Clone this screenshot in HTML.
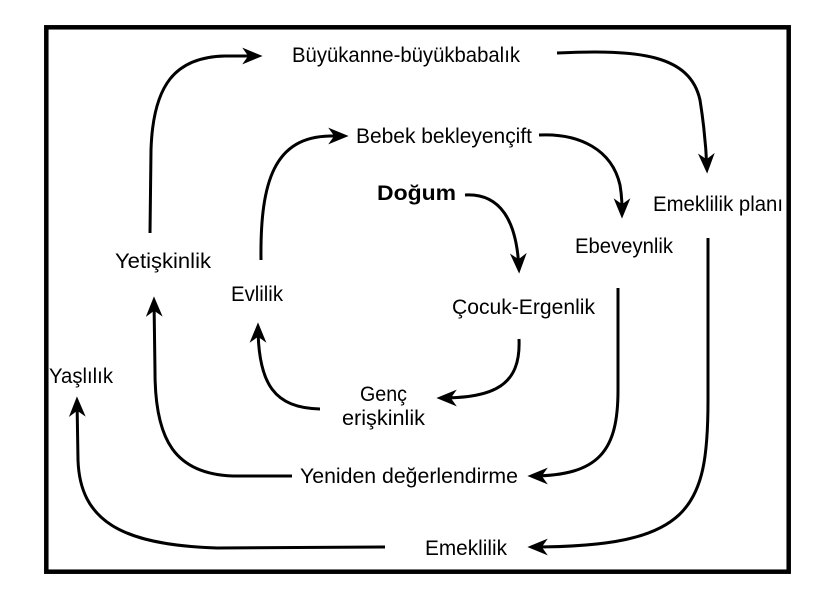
<!DOCTYPE html>
<html>
<head>
<meta charset="utf-8">
<style>
  html, body { margin: 0; padding: 0; background: #fff; }
  svg { display: block; }
  text { font-family: "Liberation Sans", "DejaVu Sans", sans-serif; font-size: 21px; fill: #000; }
</style>
</head>
<body>
<svg width="815" height="592" viewBox="0 0 815 592" xmlns="http://www.w3.org/2000/svg">
  <defs>
    <marker id="ah" markerUnits="userSpaceOnUse" markerWidth="24" markerHeight="20" viewBox="-1 -8 20 16" refX="14" refY="0" orient="auto">
      <path d="M0,-7 L17,0 L0,7 L5,0 Z" fill="#000"/>
    </marker>
  </defs>
  <rect x="0" y="0" width="815" height="592" fill="#fff"/>
  <rect x="46.3" y="27.3" width="742.4" height="544.4" fill="none" stroke="#000" stroke-width="4.5"/>

  <g fill="none" stroke="#000" stroke-width="3" stroke-linecap="butt" marker-end="url(#ah)">
    <!-- Yetişkinlik -> Büyükanne -->
    <path d="M150,233 L151,150 C153,85 175,57 225,56 L259,56"/>
    <!-- Büyükanne -> Emeklilik planı -->
    <path d="M557,53 C640,49 690,55 700,100 C704,125 706,145 707,170"/>
    <!-- Evlilik -> Bebek -->
    <path d="M261,260 C260,180 275,137 330,136 L345,136"/>
    <!-- Bebek -> Ebeveynlik -->
    <path d="M539,135 C580,133 612,150 620,185 C622,197 622,205 622,215"/>
    <!-- Doğum -> Çocuk -->
    <path d="M465,195 C500,193 517,220 519,270"/>
    <!-- Ebeveynlik -> Yeniden -->
    <path d="M618,288 L618,390 C618,450 600,476 531,476"/>
    <!-- Emeklilik planı -> Emeklilik -->
    <path d="M708,238 L708,400 C708,510 690,547 531,547"/>
    <!-- Çocuk -> Genç -->
    <path d="M519,339 C521,385 495,398 440,398"/>
    <!-- Genç -> Evlilik -->
    <path d="M320,409 C275,408 258,385 258,326"/>
    <!-- Yeniden -> Yetişkinlik -->
    <path d="M292,476 L233,476 C175,474 155,440 155,372 L154,300"/>
    <!-- Emeklilik -> Yaşlılık -->
    <path d="M385,547 L217,548 C120,545 80,520 78,460 L77,400"/>
  </g>

  <text x="292" y="62" textLength="228" lengthAdjust="spacingAndGlyphs">Büyükanne-büyükbabalık</text>
  <text x="356" y="143" textLength="176" lengthAdjust="spacingAndGlyphs">Bebek bekleyençift</text>
  <text x="377" y="200" textLength="79" lengthAdjust="spacingAndGlyphs" font-weight="bold">Doğum</text>
  <text x="653" y="211" textLength="130" lengthAdjust="spacingAndGlyphs">Emeklilik planı</text>
  <text x="575" y="253" textLength="98" lengthAdjust="spacingAndGlyphs">Ebeveynlik</text>
  <text x="115" y="268" textLength="96" lengthAdjust="spacingAndGlyphs">Yetişkinlik</text>
  <text x="231" y="301" textLength="52" lengthAdjust="spacingAndGlyphs">Evlilik</text>
  <text x="452" y="314" textLength="143" lengthAdjust="spacingAndGlyphs">Çocuk-Ergenlik</text>
  <text x="49" y="383" textLength="64" lengthAdjust="spacingAndGlyphs">Yaşlılık</text>
  <text x="360" y="401" textLength="47" lengthAdjust="spacingAndGlyphs">Genç</text>
  <text x="342" y="425" textLength="83" lengthAdjust="spacingAndGlyphs">erişkinlik</text>
  <text x="300" y="483" textLength="218" lengthAdjust="spacingAndGlyphs">Yeniden değerlendirme</text>
  <text x="425" y="555" textLength="82" lengthAdjust="spacingAndGlyphs">Emeklilik</text>
</svg>
</body>
</html>
